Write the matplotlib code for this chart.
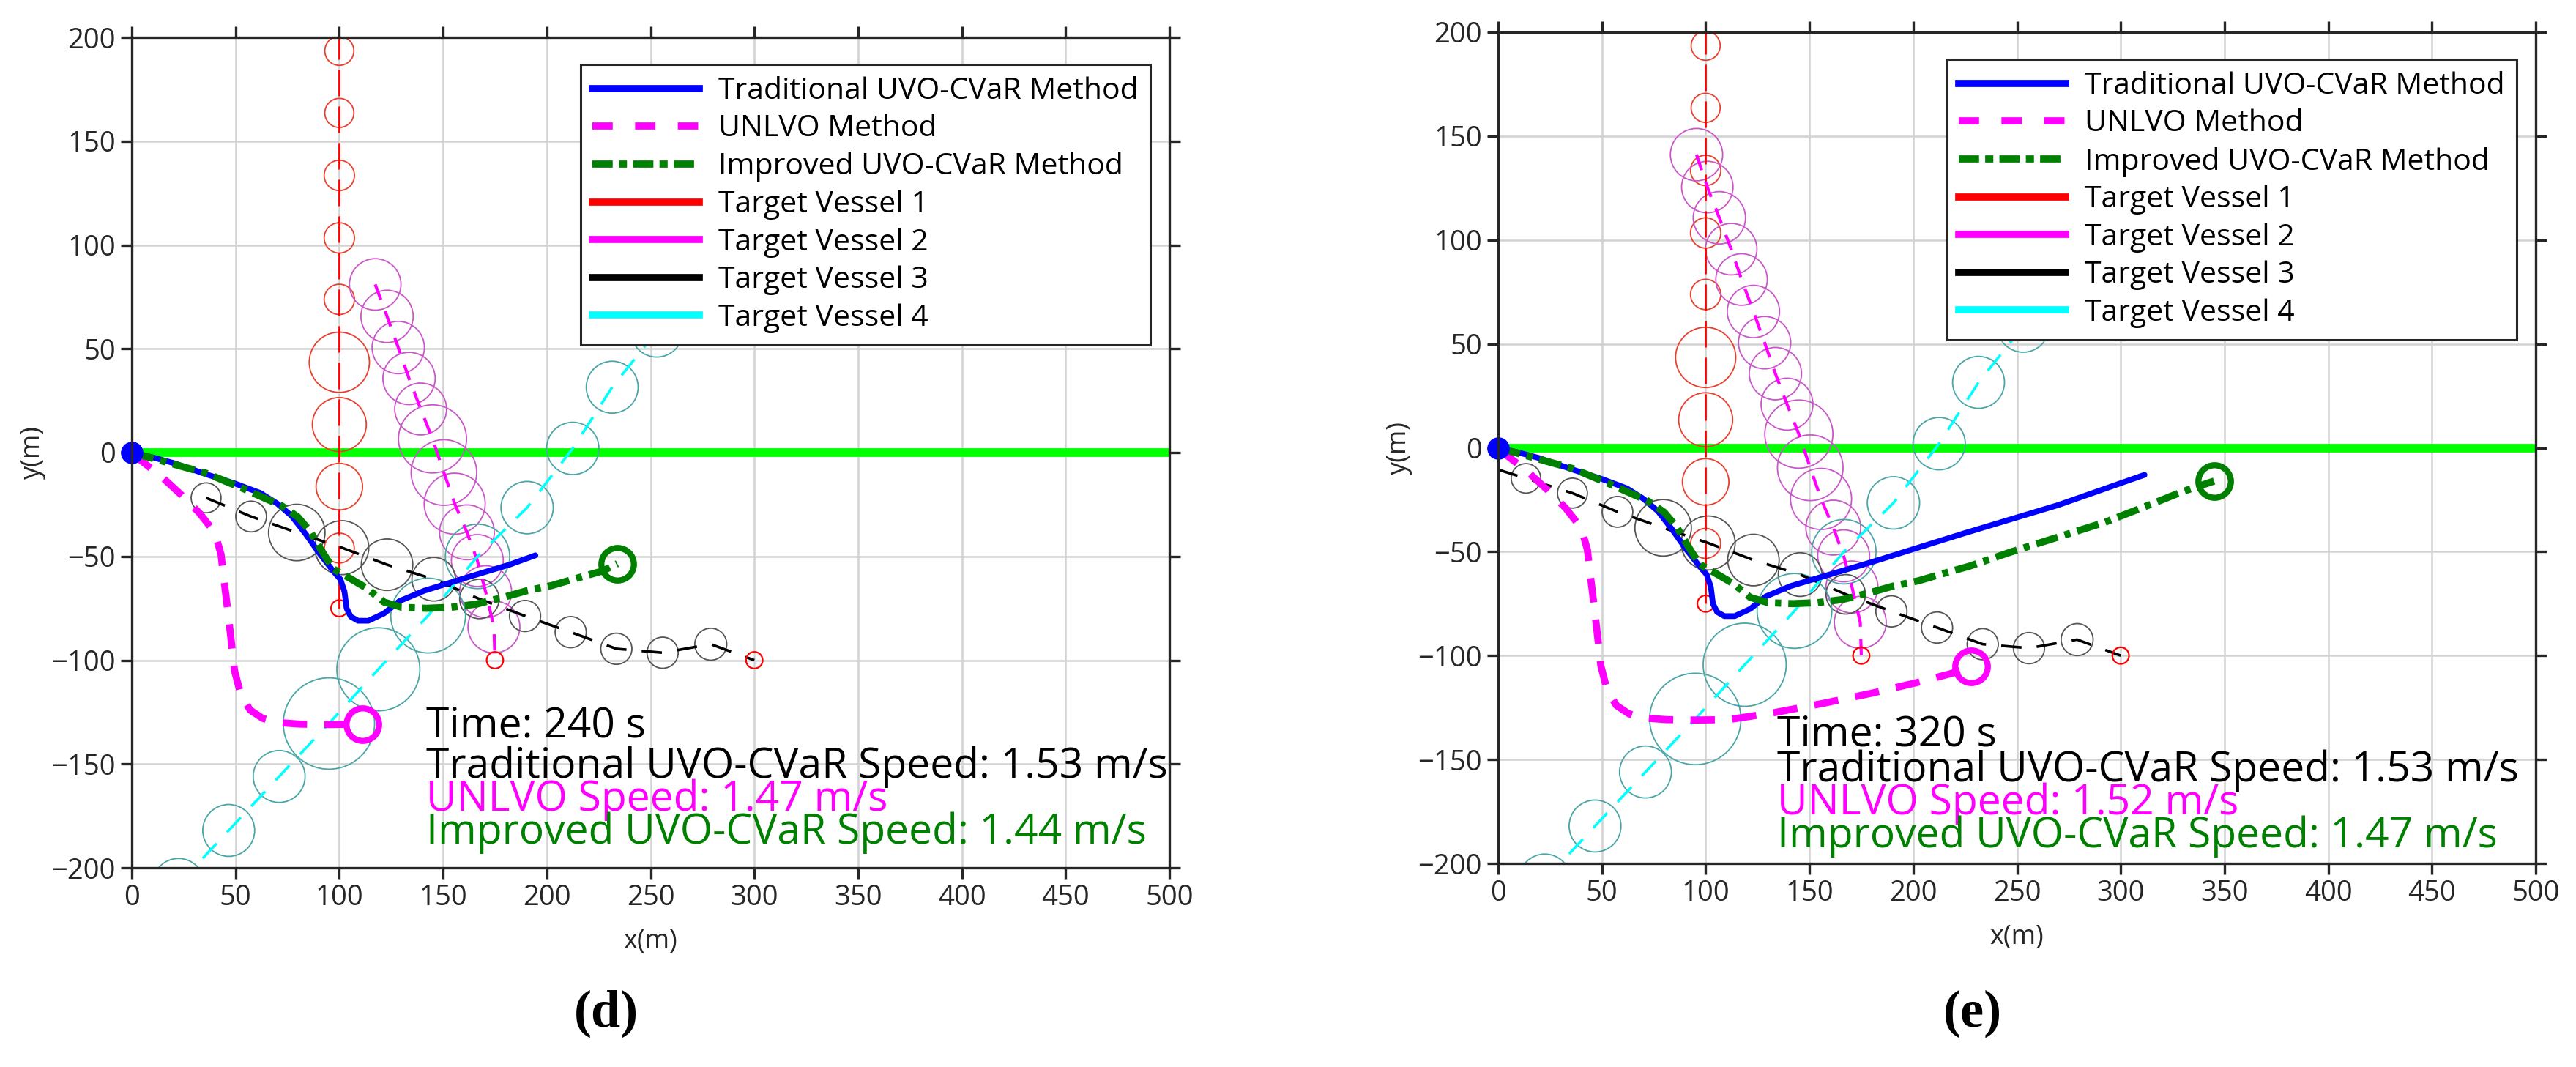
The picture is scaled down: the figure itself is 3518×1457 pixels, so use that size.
import matplotlib
matplotlib.use("Agg")
import matplotlib.pyplot as plt
from matplotlib.patches import Circle
from matplotlib.lines import Line2D

plt.rcParams['font.family'] = ['Open Sans', 'DejaVu Sans']
plt.rcParams['lines.scale_dashes'] = False
plt.rcParams['axes.unicode_minus'] = True

# ---------------- data ----------------
panel_labels = ['(d)', '(e)']
times = [240, 320]
trad_speed = [1.53, 1.53]
unlvo_speed = [1.47, 1.52]
impr_speed = [1.44, 1.47]

xticks = [0, 50, 100, 150, 200, 250, 300, 350, 400, 450, 500]
yticks = [-200, -150, -100, -50, 0, 50, 100, 150, 200]

# Target vessel 1 (same in both panels)
tv1_line_x = [100, 100]
tv1_line_y = [-75, 200]
tv1_cx = [100, 100, 100, 100, 100, 100, 100, 100, 100]
tv1_cy = [193.5, 163.6, 133.5, 103.4, 73.8, 43.5, 13.5, -16.4, -46]
tv1_r = [7, 7, 7.3, 7.3, 7.3, 14.5, 13, 11.2, 7.2]
tv1_start = (100, -75)

# Target vessel 2
tv2_cx_d = [117.3, 123, 128.4, 133.6, 139.2, 144.9, 150.4, 155.6, 161.5, 166.5, 170.5, 174.5]
tv2_cy_d = [81.0, 65.6, 50.6, 35.7, 21, 6.6, -9.6, -24.6, -38.4, -52, -67, -84]
tv2_r_d = [12.4, 12.6, 12.6, 12.6, 12.5, 16.4, 15.8, 14.7, 13.2, 12.5, 12.5, 12.5]
tv2_cx_e_extra = [95.6, 100.8, 106.6, 112.3]
tv2_cy_e_extra = [141.1, 125.5, 110.7, 95.6]
tv2_r_e_extra = [12.6, 12.4, 12.6, 12.4]
tv2_start = (175, -100)

# Target vessel 3
tv3_cx_d = [35.8, 57.5, 79.5, 101.2, 123, 145.5, 167.5, 189.5, 211.5, 233.5, 255.8, 279]
tv3_cy_d = [-21.8, -30.8, -38.5, -45.8, -54, -61, -70.5, -78.7, -86.5, -94.5, -96.4, -92.3]
tv3_r_d = [7.2, 7.4, 13.6, 13, 12.4, 10.5, 9.5, 7.5, 7.5, 7.5, 7.5, 7.7]
tv3_cx_e_extra = [13.4]
tv3_cy_e_extra = [-14.7]
tv3_r_e_extra = [7.1]
tv3_end_e = (0, -10.5)
tv3_start = (300, -100)

# Target vessel 4 (same in both panels)
tv4_cx = [22.5, 46.7, 71, 95, 118.8, 142.8, 166.6, 190.5, 212.5, 231.5, 253]
tv4_cy = [-208, -182, -156, -130.5, -104.4, -78.5, -50, -26.5, 2, 31.5, 58.5]
tv4_r = [12.5, 12.5, 12.5, 22, 20, 18, 15.5, 12.6, 12.6, 12.5, 12.5]

# Own ship - Traditional UVO-CVaR (blue)
blue_x_common = [0, 10, 20, 36, 50, 62, 70, 77, 84, 90, 97, 100.5, 102.5, 103.5, 105.5, 109, 114, 121.5, 129, 141]
blue_y_common = [0, -2.3, -5, -10.5, -15, -19.5, -24.5, -30.5, -39.5, -48, -57, -61, -67, -75, -79, -81, -81, -77.5, -71.5, -66.5]
blue_x_d_tail = [162, 182, 194.5]
blue_y_d_tail = [-60, -54, -49.5]
blue_x_e_tail = [180, 225, 270, 311.5]
blue_y_e_tail = [-55, -41, -27.5, -13]

# Own ship - UNLVO (magenta)
mag_x_common = [0, 4, 14, 24, 32.5, 38, 41, 43, 44, 45.5, 47.5, 49.5, 52.5, 57, 63, 70, 81, 95, 111]
mag_y_common = [0, -3.5, -11.3, -20.5, -29, -36, -42, -49, -58, -70, -87, -105, -116.5, -124, -128, -130, -130.8, -131, -130.8]
mag_x_e_tail = [132.8, 157.5, 180, 202.5, 218, 228]
mag_y_e_tail = [-127.5, -122.8, -118.1, -112.8, -108.7, -105.3]

# Own ship - Improved UVO-CVaR (green)
grn_x_common = [0, 18, 36, 54, 72, 80, 86, 91, 97, 105, 113.5, 121.5, 130, 142, 154, 166, 178, 190.5, 202.5, 214.5, 227]
grn_y_common = [0, -5, -10, -17.5, -25.5, -31, -38, -46.5, -56, -60.5, -65.5, -72, -74.5, -75, -74.5, -73, -70, -66.5, -64, -60.5, -57]
grn_x_d_tail = [234]
grn_y_d_tail = [-53.5]
grn_x_e_tail = [247.5, 270, 292.5, 315, 330, 345]
grn_y_e_tail = [-50, -42.9, -35.8, -27, -21, -16]

goal_line_x = [0, 500]
goal_line_y = [0, 0]

# text positions (data coords)
txt_x = [141.8, 134.4]
txt_y = [[-137.2, -156.6, -172.5, -188.4], [-143.3, -160.4, -176.3, -192.2]]

legend_labels = ['Traditional UVO-CVaR Method', 'UNLVO Method', 'Improved UVO-CVaR Method',
                 'Target Vessel 1', 'Target Vessel 2', 'Target Vessel 3', 'Target Vessel 4']

# ---------------- styles ----------------
C_BLUE = '#0000FF'
C_MAG = '#FF00FF'
C_GRN = '#008000'
C_RED = '#FF0000'
C_CYAN = '#00FFFF'
EC_RED = '#E8402F'
EC_MAG = '#C957C9'
EC_BLK = '#555555'
EC_CYAN = '#4AA6A6'
AXC = '#262626'

fig = plt.figure(figsize=(35.18, 14.57), dpi=100)
fig.patch.set_facecolor('white')
ax_rects = [[180 / 3518, (1457 - 1185) / 1457, 1417 / 3518, 1134 / 1457],
            [2046 / 3518, (1457 - 1179) / 1457, 1417 / 3518, 1135 / 1457]]
label_pos = [(828 / 3518, 1 - 1384 / 1457), (2694 / 3518, 1 - 1384 / 1457)]


def circles(ax, xs, ys, rs, ec, lw=1.3):
    for x, y, r in zip(xs, ys, rs):
        ax.add_patch(Circle((x, y), r, fill=False, ec=ec, lw=lw, zorder=3))


for i in range(2):
    ax = fig.add_axes(ax_rects[i])
    ax.set_xlim(0, 500)
    ax.set_ylim(-200, 200)
    ax.set_xticks(xticks)
    ax.set_yticks(yticks)
    ax.grid(True, color='#d2d2d2', lw=1.8)
    ax.set_axisbelow(True)
    for s in ax.spines.values():
        s.set_linewidth(2.4)
        s.set_color(AXC)
        s.set_zorder(10)
    ax.tick_params(which='both', direction='out', top=True, right=True, length=11,
                   width=2.4, color=AXC, labelsize=27.5, labelcolor=AXC, pad=5)
    ax.set_xlabel('x(m)', fontsize=26, color=AXC)
    ax.set_ylabel('y(m)', fontsize=26, color=AXC)
    ax.xaxis.label.set_va('center')
    ax.yaxis.label.set_va('center')
    ax.xaxis.set_label_coords(0.5, -0.089)
    ax.yaxis.set_label_coords(-0.0953, 0.5)

    # goal line
    ax.plot(goal_line_x, goal_line_y, color='#00FF00', lw=8.5, zorder=2, solid_capstyle='butt')

    # target vessel 1
    ax.plot(tv1_line_x, tv1_line_y, color=C_RED, lw=2, dashes=(26, 10), zorder=4)
    circles(ax, tv1_cx, tv1_cy, tv1_r, EC_RED)
    ax.add_patch(Circle(tv1_start, 4, fill=False, ec=C_RED, lw=1.6, zorder=4))

    # target vessel 2
    if i == 0:
        cx2, cy2, r2 = tv2_cx_d, tv2_cy_d, tv2_r_d
    else:
        cx2 = tv2_cx_e_extra + tv2_cx_d
        cy2 = tv2_cy_e_extra + tv2_cy_d
        r2 = tv2_r_e_extra + tv2_r_d
    ax.plot(list(cx2) + [tv2_start[0]], list(cy2) + [tv2_start[1]], color=C_MAG, lw=3,
            dashes=(16, 12), zorder=4)
    circles(ax, cx2, cy2, r2, EC_MAG)
    ax.add_patch(Circle(tv2_start, 4, fill=False, ec=C_RED, lw=1.6, zorder=4))

    # target vessel 3
    if i == 0:
        lx3 = list(tv3_cx_d)
        ly3 = list(tv3_cy_d)
        cx3, cy3, r3 = tv3_cx_d, tv3_cy_d, tv3_r_d
    else:
        lx3 = [tv3_end_e[0]] + tv3_cx_e_extra + tv3_cx_d
        ly3 = [tv3_end_e[1]] + tv3_cy_e_extra + tv3_cy_d
        cx3 = tv3_cx_e_extra + tv3_cx_d
        cy3 = tv3_cy_e_extra + tv3_cy_d
        r3 = tv3_r_e_extra + tv3_r_d
    ax.plot(lx3 + [tv3_start[0]], ly3 + [tv3_start[1]], color='black', lw=2.6,
            dashes=(20, 15), zorder=4)
    circles(ax, cx3, cy3, r3, EC_BLK)
    ax.add_patch(Circle(tv3_start, 4, fill=False, ec=C_RED, lw=1.6, zorder=4))

    # target vessel 4
    ax.plot(tv4_cx, tv4_cy, color=C_CYAN, lw=2.6, dashes=(20, 15), zorder=4)
    circles(ax, tv4_cx, tv4_cy, tv4_r, EC_CYAN)

    # own ship paths
    if i == 0:
        bx = blue_x_common + blue_x_d_tail
        by = blue_y_common + blue_y_d_tail
        mx, my = mag_x_common, mag_y_common
        gx = grn_x_common + grn_x_d_tail
        gy = grn_y_common + grn_y_d_tail
    else:
        bx = blue_x_common + blue_x_e_tail
        by = blue_y_common + blue_y_e_tail
        mx = mag_x_common + mag_x_e_tail
        my = mag_y_common + mag_y_e_tail
        gx = grn_x_common + grn_x_e_tail
        gy = grn_y_common + grn_y_e_tail
    ax.plot(bx, by, color=C_BLUE, lw=5.6, zorder=6, solid_capstyle='round', solid_joinstyle='round')
    ax.plot(mx, my, color=C_MAG, lw=7, dashes=(24, 17), zorder=6)
    ax.plot(gx, gy, color=C_GRN, lw=7, dashes=(22, 7, 6, 7), zorder=7)
    ax.plot([mx[-1]], [my[-1]], 'o', ms=32, mfc='none', mec=C_MAG, mew=6, zorder=8)
    ax.plot([gx[-1]], [gy[-1]], 'o', ms=32, mfc='none', mec=C_GRN, mew=6, zorder=8)
    ax.plot([bx[0]], [by[0]], 'o', ms=21, color=C_BLUE, zorder=9, clip_on=False)

    # texts
    lines = [('Time: %d s' % times[i], 'black'),
             ('Traditional UVO-CVaR Speed: %.2f m/s' % trad_speed[i], 'black'),
             ('UNLVO Speed: %.2f m/s' % unlvo_speed[i], C_MAG),
             ('Improved UVO-CVaR Speed: %.2f m/s' % impr_speed[i], C_GRN)]
    for (s, c), yy in zip(lines, txt_y[i]):
        ax.text(txt_x[i], yy, s, fontsize=41, color=c, ha='left', va='baseline', zorder=11)

    # legend
    handles = [Line2D([], [], color=C_BLUE, lw=7),
               Line2D([], [], color=C_MAG, lw=7, dashes=(20, 22)),
               Line2D([], [], color=C_GRN, lw=7, dashes=(20, 6, 8, 6)),
               Line2D([], [], color=C_RED, lw=7),
               Line2D([], [], color=C_MAG, lw=7),
               Line2D([], [], color='black', lw=7),
               Line2D([], [], color=C_CYAN, lw=7)]
    leg = ax.legend(handles, legend_labels, loc='upper left', bbox_to_anchor=(0.4326, 0.9674),
                    borderaxespad=0, fontsize=29.5, handlelength=3.55, handletextpad=0.64,
                    borderpad=0.4, labelspacing=0.27, fancybox=False, framealpha=1,
                    edgecolor=AXC)
    leg.get_frame().set_linewidth(2.2)
    leg.set_zorder(12)

    fig.text(label_pos[i][0], label_pos[i][1], panel_labels[i], fontsize=52,
             fontweight='bold', family=['Liberation Serif', 'DejaVu Serif'],
             ha='center', va='center')

fig.savefig('out.png', dpi=100, facecolor='white')
